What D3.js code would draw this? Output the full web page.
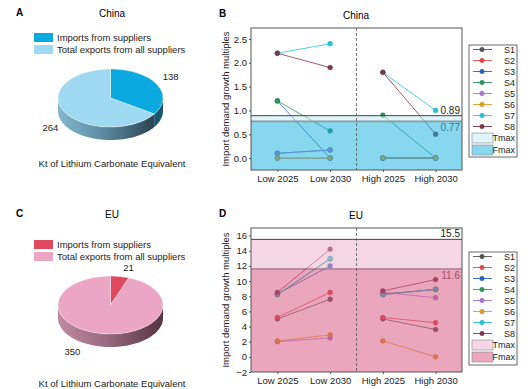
<!DOCTYPE html>
<html>
<head>
<meta charset="utf-8">
<script src="https://cdn.jsdelivr.net/npm/d3@7"></script>
<style>
  body { margin: 0; background: #fff; }
  svg { font-family: Arial, "Liberation Sans", sans-serif; }
</style>
</head>
<body>
<div id="chart"></div>
<script>
// ---- data ----
var pieLabels = ["Imports from suppliers", "Total exports from all suppliers"];
var chinaPie = [138, 264];
var euPie = [21, 350];

var scenarios = ["Low 2025", "Low 2030", "High 2025", "High 2030"];
var seriesNames = ["S1", "S2", "S3", "S4", "S5", "S6", "S7", "S8"];
var seriesColors = ["#555555", "#e8474c", "#2860c8", "#2a9a5a", "#a878d8", "#e0a020", "#20c8d8", "#7a3a48"];

// values per series: Low 2025, Low 2030, High 2025, High 2030
var chinaS1 = [0.1, 0.17, 0, 0];
var chinaS2 = [0, 0, 0, 0];
var chinaS3 = [1.2, 0, 0, 0];
var chinaS4 = [1.2, 0.57, 0.9, 0];
var chinaS5 = [0.1, 0.17, 0, 0];
var chinaS6 = [0, 0, 0, 0];
var chinaS7 = [2.2, 2.4, 1.8, 1.0];
var chinaS8 = [2.2, 1.9, 1.8, 0.5];

var euS1 = [5.0, 7.6, 5.0, 3.6];
var euS2 = [5.2, 8.5, 5.2, 4.5];
var euS3 = [8.3, 12.0, 8.3, 8.9];
var euS4 = [8.2, 12.9, 8.2, 8.9];
var euS5 = [2.0, 2.5, 8.5, 7.8];
var euS6 = [2.1, 2.9, 2.1, 0];
var euS7 = [8.2, 13.0, 8.2, 8.9];
var euS8 = [8.5, 14.2, 8.7, 10.2];

var chinaTmax = 0.89, chinaFmax = 0.77;
var euTmax = 15.5, euFmax = 11.6;
var chinaTicks = [0, 0.5, 1.0, 1.5, 2.0, 2.5];
var euTicks = [-2, 0, 2, 4, 6, 8, 10, 12, 14, 16];

var W = 531, H = 389;
var svg = d3.select("#chart").append("svg").attr("width", W).attr("height", H);
var defs = svg.append("defs");

function grad(id, stops) {
  var lg = defs.append("linearGradient").attr("id", id).attr("x1", "0").attr("x2", "1").attr("y1", "0").attr("y2", "0");
  stops.forEach(function(s) { lg.append("stop").attr("offset", s[0]).attr("stop-color", s[1]); });
}
grad("sideChina", [[0, "#84b8cf"], [0.45, "#5d8da3"], [1, "#2a4452"]]);
grad("sideEU", [[0, "#c08aa0"], [0.45, "#9a6a80"], [1, "#55343f"]]);

// ---- 3D pie ----
function drawPie(opt) {
  var g = svg.append("g");
  g.append("text").attr("x", 16).attr("y", opt.top + 2).attr("font-size", 10).attr("font-weight", "bold").text(opt.letter);
  g.append("text").attr("x", 112).attr("y", opt.top + 3).attr("text-anchor", "middle").attr("font-size", 10).text(opt.title);

  pieLabels.forEach(function(l, i) {
    g.append("rect").attr("x", 34).attr("y", opt.legY + i * 12).attr("width", 19).attr("height", 9).attr("fill", opt.colors[i]);
    g.append("text").attr("x", 57).attr("y", opt.legY + 8 + i * 12).attr("font-size", 9.5).attr("fill", "#222").text(l);
  });

  var cx = 110.5, cy = opt.cy, rx = 52.5, ry = 29, depth = 13;
  var arcs = d3.pie().sort(null).value(function(d) { return d; })(opt.values);

  // side walls (front half only)
  arcs.forEach(function(a, i) {
    var s = Math.max(a.startAngle, Math.PI / 2), e = Math.min(a.endAngle, Math.PI * 1.5);
    if (e <= s) return;
    var angs = d3.range(s, e, 0.02).concat([e]);
    var p = d3.path();
    angs.forEach(function(t, k) {
      var px = cx + rx * Math.sin(t), py = cy - ry * Math.cos(t);
      if (k === 0) p.moveTo(px, py); else p.lineTo(px, py);
    });
    angs.slice().reverse().forEach(function(t) {
      p.lineTo(cx + rx * Math.sin(t), cy - ry * Math.cos(t) + depth);
    });
    p.closePath();
    g.append("path").attr("d", p.toString()).attr("fill", opt.sides[i]);
  });

  // top face
  var arc = d3.arc().innerRadius(0).outerRadius(rx);
  var top = g.append("g").attr("transform", "translate(" + cx + "," + cy + ") scale(1," + (ry / rx) + ")");
  top.selectAll("path").data(arcs).enter().append("path")
    .attr("d", arc)
    .attr("fill", function(d, i) { return opt.colors[i]; })
    .attr("stroke", "rgba(255,255,255,0.6)")
    .attr("stroke-width", 0.6)
    .attr("vector-effect", "non-scaling-stroke");

  // value labels
  arcs.forEach(function(a, i) {
    var m = (a.startAngle + a.endAngle) / 2;
    var lx = cx + 1.3 * rx * Math.sin(m) + opt.labelDx[i];
    var ly = cy - 1.3 * ry * Math.cos(m) + (Math.cos(m) < 0 ? depth + 2 : 0) + opt.labelDy[i];
    g.append("text").attr("x", lx).attr("y", ly).attr("text-anchor", "middle").attr("font-size", 9.5)
      .attr("fill", "#222").text(a.data);
  });

  g.append("text").attr("x", 112).attr("y", opt.footY).attr("text-anchor", "middle").attr("font-size", 9.5)
    .attr("fill", "#222").text("Kt of Lithium Carbonate Equivalent");
}

drawPie({ letter: "A", title: "China", top: 14, legY: 33, cy: 98, footY: 167, values: chinaPie,
  colors: ["#0aa9e0", "#9fd9f1"], sides: ["#1b5670", "url(#sideChina)"], labelDx: [0, 0], labelDy: [0, 0] });
drawPie({ letter: "C", title: "EU", top: 215, legY: 240, cy: 305, footY: 387, values: euPie,
  colors: ["#df4a5f", "#eba6c3"], sides: ["#8a3040", "url(#sideEU)"], labelDx: [6, -26], labelDy: [3, -2] });

// ---- line panels ----
function drawLines(opt) {
  var g = svg.append("g");
  var left = 251, right = 462;
  var x = d3.scalePoint().domain(scenarios).range([left, right]).padding(0.5);
  var y = d3.scaleLinear().domain(opt.domain).range([opt.bottom, opt.top]);

  g.append("text").attr("x", 219).attr("y", opt.top - 11).attr("font-size", 10).attr("font-weight", "bold").text(opt.letter);
  g.append("text").attr("x", 356).attr("y", opt.top - 9).attr("text-anchor", "middle").attr("font-size", 10).text(opt.title);

  g.append("rect").attr("x", left).attr("y", opt.top).attr("width", right - left).attr("height", opt.bottom - opt.top).attr("fill", "#fff");

  // series
  opt.series.forEach(function(vals, si) {
    [[0, 1], [2, 3]].forEach(function(pair) {
      g.append("line")
        .attr("x1", x(scenarios[pair[0]])).attr("y1", y(vals[pair[0]]))
        .attr("x2", x(scenarios[pair[1]])).attr("y2", y(vals[pair[1]]))
        .attr("stroke", seriesColors[si]).attr("stroke-width", 0.8);
    });
  });
  opt.series.forEach(function(vals, si) {
    vals.forEach(function(v, k) {
      g.append("circle").attr("cx", x(scenarios[k])).attr("cy", y(v)).attr("r", 2.4)
        .attr("fill", seriesColors[si]).attr("stroke", d3.color(seriesColors[si]).darker(0.6)).attr("stroke-width", 0.5);
    });
  });

  // threshold bands (translucent, over the lines)
  g.append("rect").attr("x", left).attr("width", right - left)
    .attr("y", y(opt.tmax)).attr("height", y(opt.fmax) - y(opt.tmax))
    .attr("fill", opt.tColor).attr("opacity", 0.5);
  g.append("rect").attr("x", left).attr("width", right - left)
    .attr("y", y(opt.fmax)).attr("height", opt.bottom - y(opt.fmax))
    .attr("fill", opt.fColor).attr("opacity", 0.5);

  g.append("line").attr("x1", left).attr("x2", right).attr("y1", y(opt.tmax)).attr("y2", y(opt.tmax))
    .attr("stroke", "#444").attr("stroke-width", 1);
  g.append("line").attr("x1", left).attr("x2", right).attr("y1", y(opt.fmax)).attr("y2", y(opt.fmax))
    .attr("stroke", opt.fLine).attr("stroke-width", opt.fLineW);

  g.append("text").attr("x", right - 2).attr("y", y(opt.tmax) - 2).attr("text-anchor", "end").attr("font-size", 10)
    .attr("fill", "#222").text(opt.tmax);
  g.append("text").attr("x", right - 2).attr("y", y(opt.fmax) + 10).attr("text-anchor", "end").attr("font-size", 10)
    .attr("fill", opt.fText).text(opt.fmax);

  // divider
  g.append("line").attr("x1", (x(scenarios[1]) + x(scenarios[2])) / 2).attr("x2", (x(scenarios[1]) + x(scenarios[2])) / 2)
    .attr("y1", opt.top).attr("y2", opt.bottom).attr("stroke", "#555").attr("stroke-width", 0.8).attr("stroke-dasharray", "3,2");

  // frame
  g.append("rect").attr("x", left).attr("y", opt.top).attr("width", right - left).attr("height", opt.bottom - opt.top)
    .attr("fill", "none").attr("stroke", "#555").attr("stroke-width", 1);

  // axes
  var ya = g.append("g").attr("transform", "translate(" + left + ",0)")
    .call(d3.axisLeft(y).tickValues(opt.ticks).tickSize(2).tickPadding(2).tickFormat(opt.fmt));
  ya.select(".domain").remove();
  ya.selectAll("text").attr("font-size", 9.5).attr("fill", "#222").attr("font-family", null);
  ya.selectAll("line").attr("stroke", "#555");

  var xa = g.append("g").attr("transform", "translate(0," + opt.bottom + ")")
    .call(d3.axisBottom(x).tickSize(2).tickPadding(3));
  xa.select(".domain").remove();
  xa.selectAll("text").attr("font-size", 9.5).attr("fill", "#222").attr("font-family", null);
  xa.selectAll("line").attr("stroke", "#555");

  g.append("text").attr("transform", "translate(229," + ((opt.top + opt.bottom) / 2) + ") rotate(-90)")
    .attr("text-anchor", "middle").attr("font-size", 9.5).attr("fill", "#222").text("Import demand growth multiples");

  // legend
  var lx = 469, ly = opt.legTop;
  var lg = g.append("g");
  lg.append("rect").attr("x", lx).attr("y", ly).attr("width", 48).attr("height", opt.legH)
    .attr("fill", "#fff").attr("stroke", "#444").attr("stroke-width", 0.8);
  seriesNames.forEach(function(n, i) {
    var yy = ly + 4.5 + i * opt.legStep;
    lg.append("line").attr("x1", lx + 4).attr("x2", lx + 23).attr("y1", yy).attr("y2", yy)
      .attr("stroke", seriesColors[i]).attr("stroke-width", 0.9);
    lg.append("circle").attr("cx", lx + 13).attr("cy", yy).attr("r", 2.2).attr("fill", seriesColors[i])
      .attr("stroke", d3.color(seriesColors[i]).darker(0.6)).attr("stroke-width", 0.5);
    lg.append("text").attr("x", lx + 46).attr("y", yy + 3.2).attr("text-anchor", "end").attr("font-size", 9)
      .attr("fill", "#222").text(n);
  });
  [["Tmax", opt.tSwatch], ["Fmax", opt.fSwatch]].forEach(function(t, i) {
    var yy = ly + 88 + i * 12;
    lg.append("rect").attr("x", lx + 3).attr("y", yy).attr("width", 21).attr("height", 10)
      .attr("fill", t[1]).attr("stroke", "#888").attr("stroke-width", 0.6);
    lg.append("text").attr("x", lx + 46).attr("y", yy + 8.2).attr("text-anchor", "end").attr("font-size", 9)
      .attr("fill", "#222").text(t[0]);
  });
}

drawLines({ letter: "B", title: "China", top: 28, bottom: 170, domain: [-0.25, 2.73], ticks: chinaTicks,
  fmt: d3.format(".1f"),
  series: [chinaS1, chinaS2, chinaS3, chinaS4, chinaS5, chinaS6, chinaS7, chinaS8],
  tmax: chinaTmax, fmax: chinaFmax, tColor: "#c2eaf7", fColor: "#10b0e0",
  fLine: "#8a9aa0", fLineW: 1.6, fText: "#2f7f9f",
  tSwatch: "#e0f4fb", fSwatch: "#88d6ef", legTop: 45, legH: 112, legStep: 11 });

drawLines({ letter: "D", title: "EU", top: 228, bottom: 372, domain: [-2, 17], ticks: euTicks,
  fmt: d3.format("d"),
  series: [euS1, euS2, euS3, euS4, euS5, euS6, euS7, euS8],
  tmax: euTmax, fmax: euFmax, tColor: "#edaecb", fColor: "#d64e7a",
  fLine: "#8a6070", fLineW: 1, fText: "#a0506a",
  tSwatch: "#f6d6e4", fSwatch: "#eba8bf", legTop: 252, legH: 113, legStep: 11 });
</script>
</body>
</html>
